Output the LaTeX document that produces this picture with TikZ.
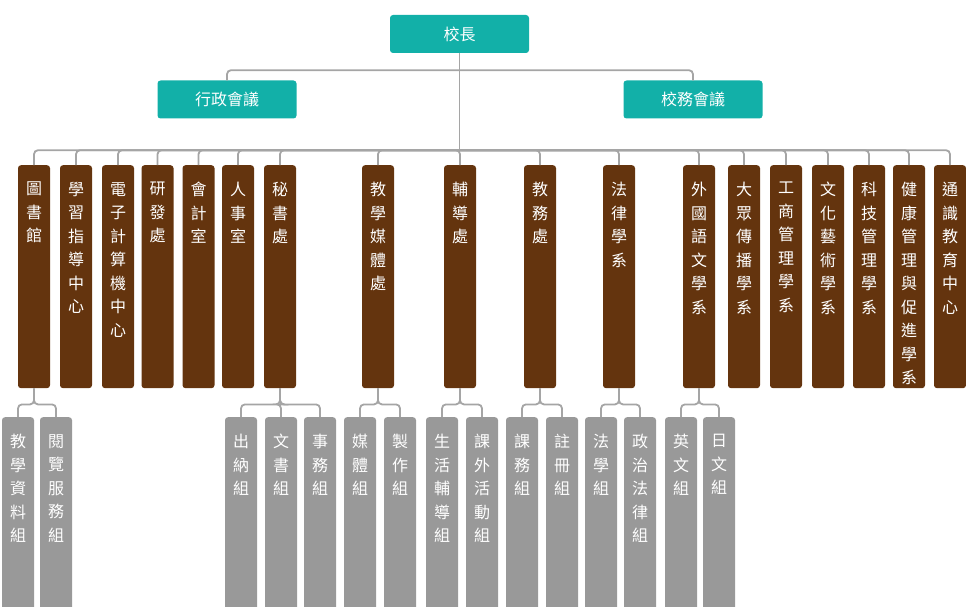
\documentclass[tikz,border=0pt]{standalone}
\usepackage{fontspec}
\setmainfont{Noto Sans CJK TC}
\usetikzlibrary{calc}
\definecolor{teal1}{HTML}{12B0A8}
\definecolor{brn}{HTML}{64340E}
\definecolor{gry}{HTML}{999999}
\definecolor{lin}{HTML}{A5A5A5}
\tikzset{
 topbox/.style={fill=teal1,rounded corners=3pt,minimum width=139pt,minimum height=38pt,text=white,font=\fontsize{16}{18}\selectfont,inner sep=0},
 bbox/.style={fill=brn,rounded corners=3pt,minimum width=32pt,anchor=north,inner sep=0},
 gbox/.style={fill=gry,rounded corners=3pt,minimum width=32pt,anchor=north,inner sep=0},
 vtext/.style={anchor=north,text=white,align=center,font=\fontsize{16}{23.5}\selectfont,inner sep=0},
 conn/.style={draw=lin,line width=1.8pt,rounded corners=4pt}
}
\newcommand\orgbx[6]{%
 \node[#5,minimum height=#4pt] (#1) at (#2,-#3) {};
 \node[vtext] (#1t) at ($(#1.north)+(0,-17)$) {#6};}
\begin{document}
\begin{tikzpicture}[x=1pt,y=1pt]
\useasboundingbox (0,0) rectangle (966,-607);
\node[topbox] (root) at (459.5,-34) {校長};
\node[topbox] (m1) at (227,-99.5) {行政會議};
\node[topbox] (m2) at (693,-99.5) {校務會議};
\draw[conn] (m1.north) |- ($(root.south)+(0,-17)$);
\draw[conn] (m2.north) |- ($(root.south)+(0,-17)$);
\draw[conn] (root.south) -- ++(0,-97);
% brown
\orgbx{b1}{34}{165}{223}{bbox}{圖\\書\\館}
\orgbx{b2}{76}{165}{223}{bbox}{學\\習\\指\\導\\中\\心}
\orgbx{b3}{118}{165}{223}{bbox}{電\\子\\計\\算\\機\\中\\心}
\orgbx{b4}{157.5}{165}{223}{bbox}{研\\發\\處}
\orgbx{b5}{198.5}{165}{223}{bbox}{會\\計\\室}
\orgbx{b6}{238}{165}{223}{bbox}{人\\事\\室}
\orgbx{b7}{280}{165}{223}{bbox}{秘\\書\\處}
\orgbx{b8}{378}{165}{223}{bbox}{教\\學\\媒\\體\\處}
\orgbx{b9}{460}{165}{223}{bbox}{輔\\導\\處}
\orgbx{b10}{540}{165}{223}{bbox}{教\\務\\處}
\orgbx{b11}{619}{165}{223}{bbox}{法\\律\\學\\系}
\orgbx{b12}{699}{165}{223}{bbox}{外\\國\\語\\文\\學\\系}
\orgbx{b13}{744}{165}{223}{bbox}{大\\眾\\傳\\播\\學\\系}
\orgbx{b14}{786}{165}{223}{bbox}{工\\商\\管\\理\\學\\系}
\orgbx{b15}{828}{165}{223}{bbox}{文\\化\\藝\\術\\學\\系}
\orgbx{b16}{869}{165}{223}{bbox}{科\\技\\管\\理\\學\\系}
\orgbx{b17}{909}{165}{223}{bbox}{健\\康\\管\\理\\與\\促\\進\\學\\系}
\orgbx{b18}{950}{165}{223}{bbox}{通\\識\\教\\育\\中\\心}
\foreach \i in {1,...,18}{\draw[conn] (b\i.north) |- ($(root.south)+(0,-97)$);}
% gray
\orgbx{g1}{18}{417}{200}{gbox}{教\\學\\資\\料\\組}
\orgbx{g2}{56}{417}{200}{gbox}{閱\\覽\\服\\務\\組}
\orgbx{g3}{241}{417}{200}{gbox}{出\\納\\組}
\orgbx{g4}{281}{417}{200}{gbox}{文\\書\\組}
\orgbx{g5}{320}{417}{200}{gbox}{事\\務\\組}
\orgbx{g6}{360}{417}{200}{gbox}{媒\\體\\組}
\orgbx{g7}{400}{417}{200}{gbox}{製\\作\\組}
\orgbx{g8}{442}{417}{200}{gbox}{生\\活\\輔\\導\\組}
\orgbx{g9}{482}{417}{200}{gbox}{課\\外\\活\\動\\組}
\orgbx{g10}{522}{417}{200}{gbox}{課\\務\\組}
\orgbx{g11}{562}{417}{200}{gbox}{註\\冊\\組}
\orgbx{g12}{601}{417}{200}{gbox}{法\\學\\組}
\orgbx{g13}{640}{417}{200}{gbox}{政\\治\\法\\律\\組}
\orgbx{g14}{681}{417}{200}{gbox}{英\\文\\組}
\orgbx{g15}{719}{417}{200}{gbox}{日\\文\\組}
\foreach \c/\p in {g1/b1,g2/b1,g3/b7,g4/b7,g5/b7,g6/b8,g7/b8,g8/b9,g9/b9,g10/b10,g11/b10,g12/b11,g13/b11,g14/b12,g15/b12}
 {\draw[conn] (\c.north) |- ($(\p.south)+(0,-16)$) -- (\p.south);}
\end{tikzpicture}
\end{document}
